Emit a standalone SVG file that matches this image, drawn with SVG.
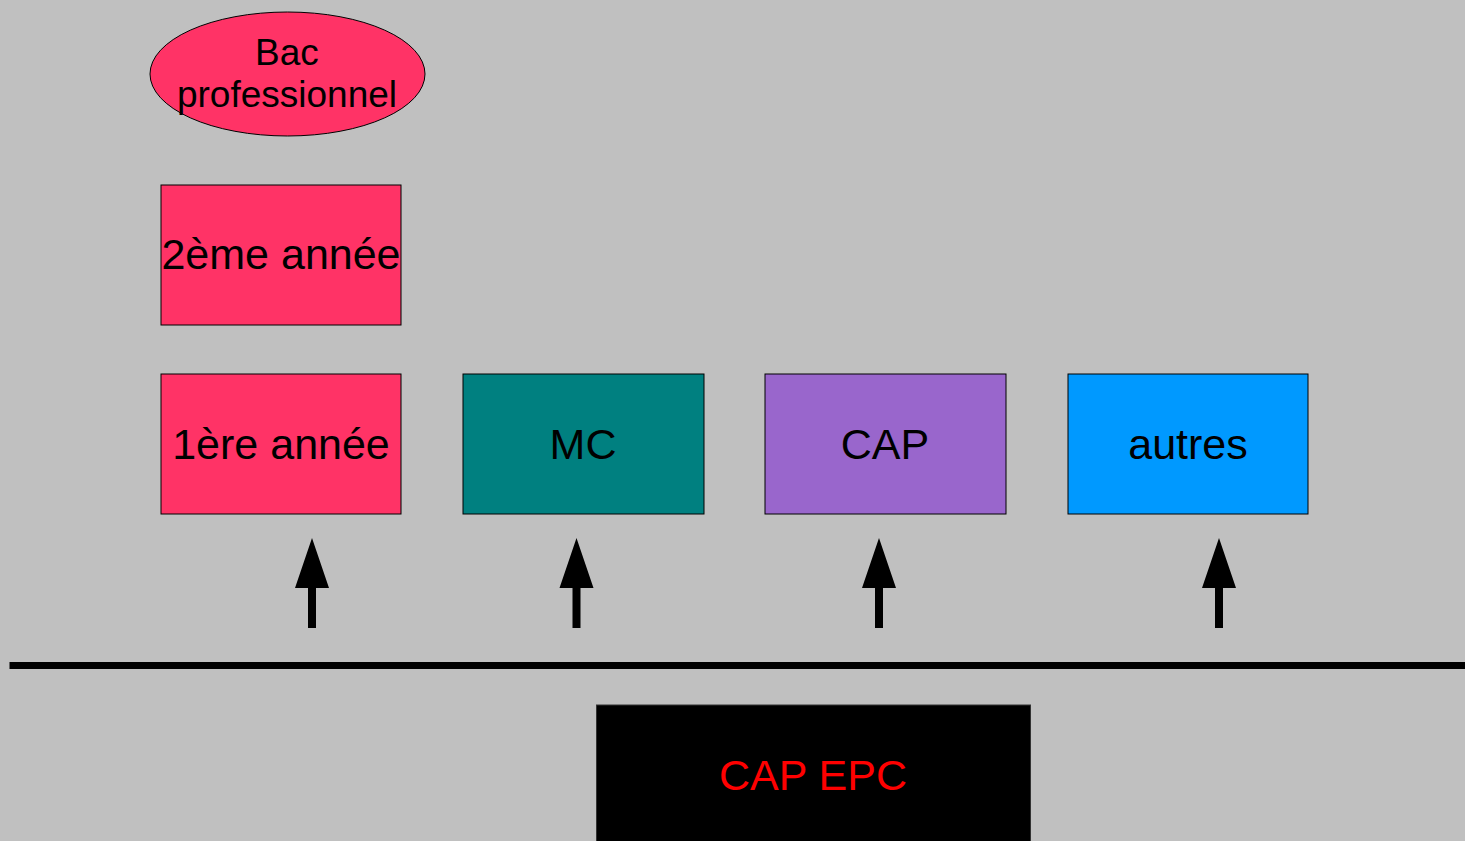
<svg xmlns="http://www.w3.org/2000/svg" width="1465" height="841" viewBox="0 0 1465 841">
<style>
.box{stroke:#000;stroke-width:1}
.t{font-family:"Liberation Sans",Arial,sans-serif;font-size:43px;text-anchor:middle;fill:#000}
.pink{fill:#ff3366}
.arr{fill:#000}
</style>
<defs>
<path id="arrow" d="M-4,628 L-4,588 L-17,588 L0,538 L17,588 L4,588 L4,628 Z"/>
</defs>
<rect x="0" y="0" width="1465" height="841" fill="#c0c0c0"/>
<g id="bac">
<ellipse class="box pink" cx="287.5" cy="74" rx="137.5" ry="62"/>
<text class="t" x="287" y="65" style="font-size:37px">Bac</text>
<text class="t" x="287" y="107" style="font-size:37px">professionnel</text>
</g>
<g id="annee2">
<rect class="box pink" x="161" y="185" width="240" height="140"/>
<text class="t" x="281" y="269">2ème année</text>
</g>
<g id="annee1">
<rect class="box pink" x="161" y="374" width="240" height="140"/>
<text class="t" x="281" y="459">1ère année</text>
</g>
<g id="mc">
<rect class="box" fill="#008080" x="463" y="374" width="241" height="140"/>
<text class="t" x="583" y="459">MC</text>
</g>
<g id="cap">
<rect class="box" fill="#9966cc" x="765" y="374" width="241" height="140"/>
<text class="t" x="885" y="459">CAP</text>
</g>
<g id="autres">
<rect class="box" fill="#0099ff" x="1068" y="374" width="240" height="140"/>
<text class="t" x="1188" y="459">autres</text>
</g>
<g id="capepc">
<rect x="596.5" y="705" width="434" height="140" fill="#000" stroke="#333" stroke-width="1"/>
<text class="t" x="813" y="790" style="fill:#ff0000">CAP EPC</text>
</g>
<g id="connectors">
<rect x="9.5" y="662" width="1456" height="7" fill="#000"/>
<use href="#arrow" x="312"/>
<use href="#arrow" x="576.5"/>
<use href="#arrow" x="879"/>
<use href="#arrow" x="1219"/>
</g>
</svg>
